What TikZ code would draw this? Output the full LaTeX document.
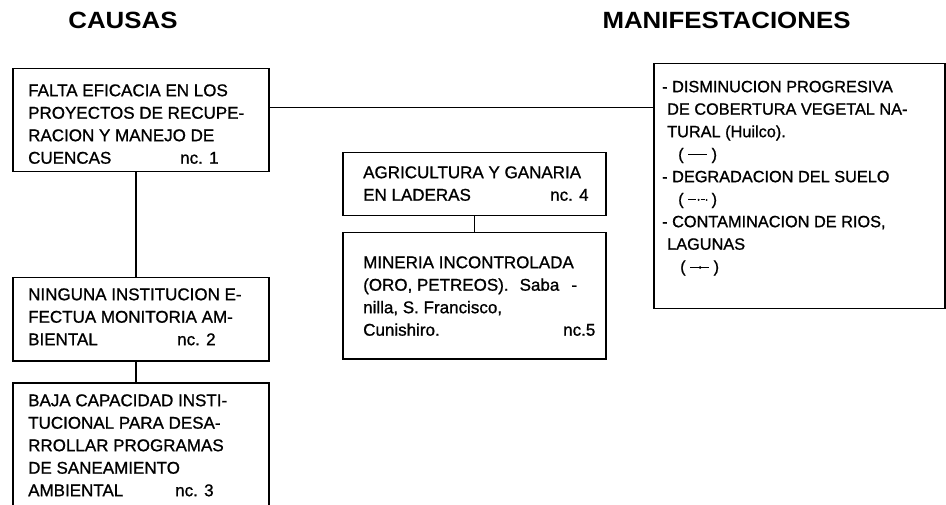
\documentclass[tikz,border=0pt]{standalone}
\usepackage{graphicx}
\usepackage{fontspec}
\setmainfont{Liberation Sans}
\newfontfamily\bodyf{Liberation Sans}[FakeBold=1.0]
\usetikzlibrary{calc}
\newcommand{\mkSolid}{\tikz[baseline=0pt]\draw[line width=1pt] (0pt,4.8pt)--(19pt,4.8pt);}
\newcommand{\mkDashDot}{\tikz[baseline=0pt]{\draw[line width=1pt] (0pt,4.8pt)--(8pt,4.8pt);\fill (10.5pt,4.8pt) circle (1.2pt);\draw[line width=0.8pt] (12.5pt,4.8pt)--(16.5pt,4.8pt);\fill (18.5pt,4.8pt) circle (1pt);}}
\newcommand{\mkDot}{\tikz[baseline=0pt]{\draw[line width=1pt] (0pt,4.8pt)--(19pt,4.8pt);\fill (10pt,4.8pt) circle (1.5pt);}}
\tikzset{
  boxc/.style={draw, line width=1.5pt, inner sep=0pt, anchor=north west},
  txt/.style={anchor=north west, inner sep=0pt, align=left, font=\bodyf\fontsize{17}{22.5}\selectfont},
  txtr/.style={txt, font=\bodyf\fontsize{16.3}{22.5}\selectfont},
  head/.style={anchor=base, inner sep=0pt, font=\fontsize{23.5}{28}\selectfont\bfseries},
  conn/.style={line width=1.5pt}
}
\begin{document}
\begin{tikzpicture}[x=1pt,y=-1pt]
\useasboundingbox (0,0) rectangle (946,505);
% headers
\node[head] (hc) at (123,29) {\scalebox{1.1}[1]{CAUSAS}};
\node[head] (hm) at (726.5,29) {\scalebox{1.1}[1]{MANIFESTACIONES}};
% boxes
\node[boxc, minimum width=256pt, minimum height=103pt] (b1) at (12,68) {};
\node[boxc, minimum width=256pt, minimum height=83pt] (b2) at (12,277) {};
\node[boxc, minimum width=256pt, minimum height=123pt] (b3) at (12,382) {};
\node[boxc, minimum width=263pt, minimum height=63pt] (b4) at (342,152) {};
\node[boxc, minimum width=263pt, minimum height=126pt] (b5) at (342,232) {};
\node[boxc, minimum width=291pt, minimum height=245pt] (rb) at (653,63) {};
% texts
\node[txt] (t1) at (28,83) {\rule{0pt}{13pt}FALTA EFICACIA EN LOS\\ PROYECTOS DE RECUPE-\\ RACION Y MANEJO DE\\ \makebox[152pt][l]{CUENCAS}nc. 1};
\node[txt] (t2) at (28,287) {\rule{0pt}{13pt}NINGUNA INSTITUCION E-\\ FECTUA MONITORIA AM-\\ \makebox[149pt][l]{BIENTAL}nc. 2};
\node[txt] (t3) at (28,393) {\rule{0pt}{13pt}BAJA CAPACIDAD INSTI-\\ TUCIONAL PARA DESA-\\ RROLLAR PROGRAMAS\\ DE SANEAMIENTO\\ \makebox[147pt][l]{AMBIENTAL}nc. 3};
\node[txt] (t4) at (363,165) {\rule{0pt}{13pt}AGRICULTURA Y GANARIA\\ \makebox[187pt][l]{EN LADERAS}nc. 4};
\node[txt] (t5) at (363,255) {\rule{0pt}{13pt}MINERIA INCONTROLADA\\ (ORO, PETREOS).\hspace{11pt}Saba\hspace{12pt}-\\ nilla, S. Francisco,\\ \makebox[200pt][l]{Cunishiro.}nc.5};
\node[txtr] (t6) at (662,79) {\rule{0pt}{13pt}- DISMINUCION PROGRESIVA\\
 \hspace*{5pt}DE COBERTURA VEGETAL NA-\\
 \hspace*{5pt}TURAL (Huilco).\\
 \hspace*{16pt}(\hspace{4pt}\mkSolid\hspace{4pt})\\
 - DEGRADACION DEL SUELO\\
 \hspace*{16pt}(\hspace{4pt}\mkDashDot\hspace{4pt})\\
 - CONTAMINACION DE RIOS,\\
 \hspace*{5pt}LAGUNAS\\
 \hspace*{18pt}(\hspace{4pt}\mkDot\hspace{4pt})};
% connectors
\draw[conn] ([yshift=12.5pt]b1.east) -- ([yshift=12.5pt]b1.east -| rb.west);
\draw[conn] ([xshift=-5pt]b1.south) -- ([xshift=-5pt]b2.north);
\draw[conn] ([xshift=-5pt]b2.south) -- ([xshift=-5pt]b3.north);
\draw[conn] (b4.south) -- (b5.north);
\end{tikzpicture}
\end{document}
